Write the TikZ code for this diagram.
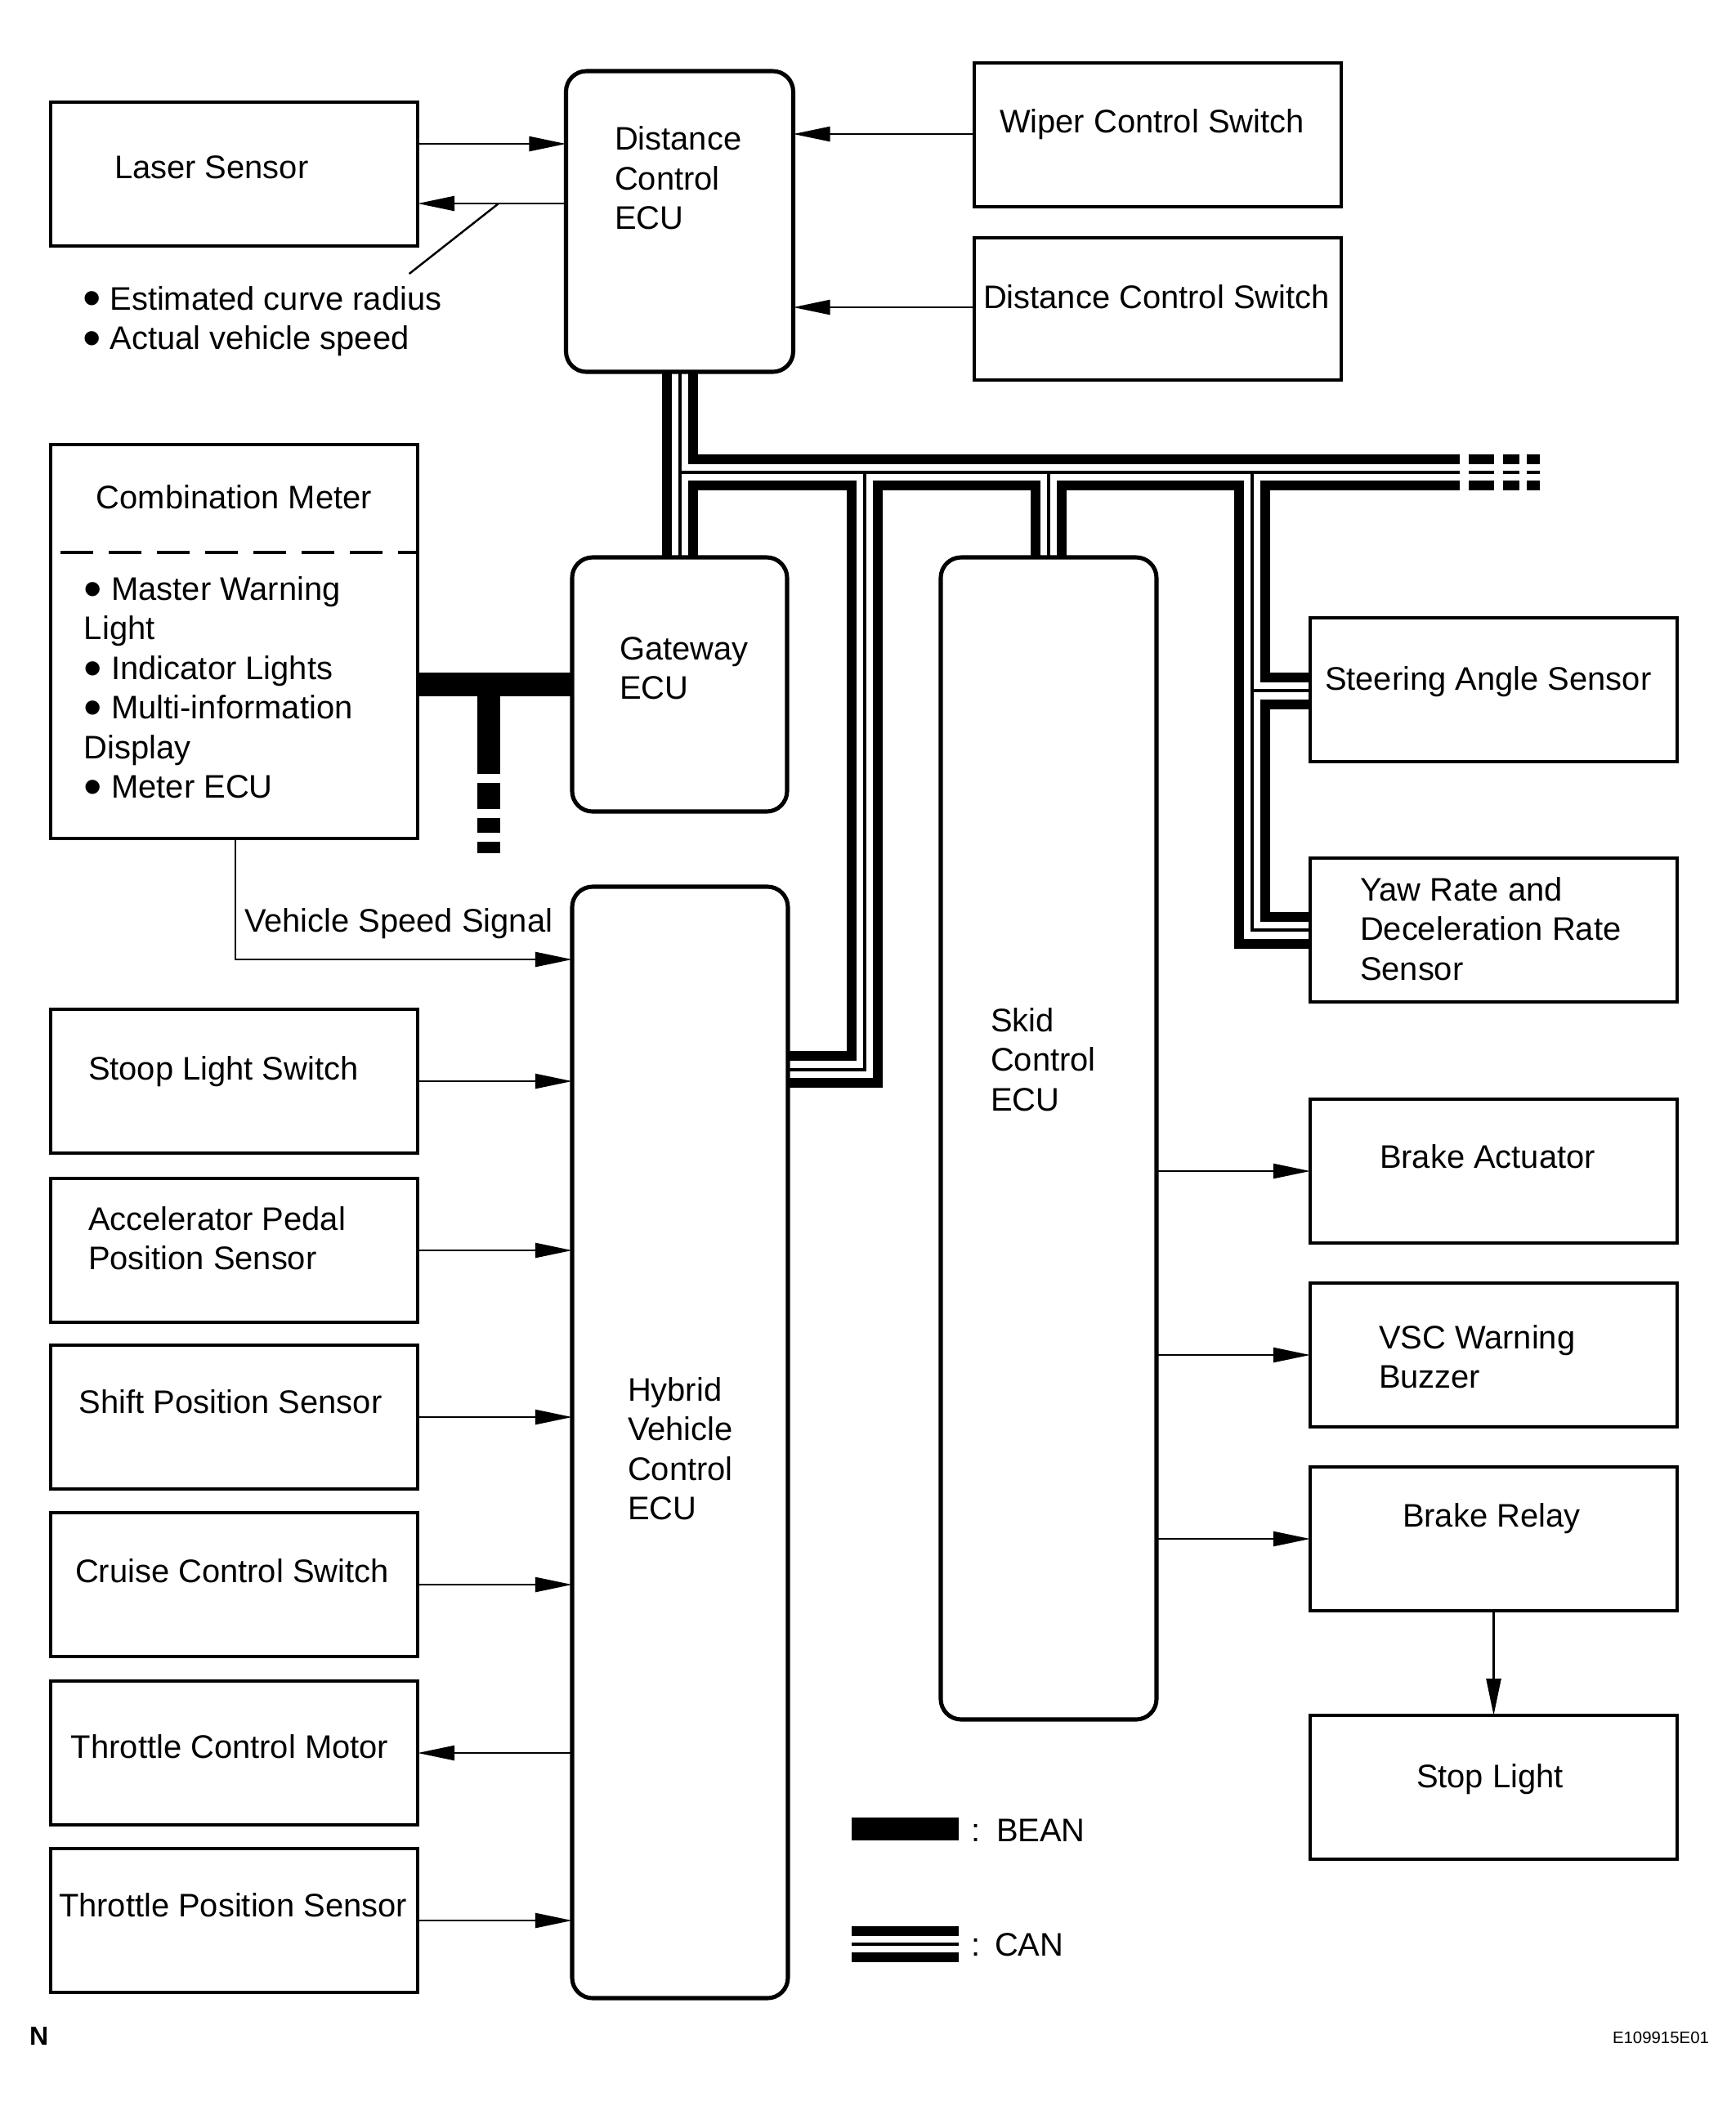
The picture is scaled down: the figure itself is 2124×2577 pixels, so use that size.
\documentclass[tikz,border=0pt]{standalone}
\usepackage{fontspec}
\setmainfont{Liberation Sans}
\usepackage{graphicx}
\usetikzlibrary{arrows.meta,fit}
\newcommand{\ml}[1]{\vtop{\halign{##\hfil\cr#1\crcr}}}
\newcommand{\bul}{\raisebox{-0.2em}[0.6em][0pt]{\scalebox{1.6}{•}}}
\begin{document}
\begin{tikzpicture}[x=0.01cm,y=-0.01cm,
  box/.style={draw, line width=1.2pt, inner sep=0pt, outer sep=0pt},
  ecu/.style={draw, line width=1.45pt, inner sep=0pt, outer sep=0pt, rounded corners=0.25cm},
  lbl/.style={inner sep=0pt, outer sep=0pt, anchor=base west, font=\fontsize{11.35}{13.8}\selectfont},
  arr/.style={line width=0.7pt, -{Triangle[length=4.5mm,width=1.8mm]}},
  thk/.style={line width=0.12cm, line cap=butt, line join=miter},
  thn/.style={line width=0.04cm, line cap=butt, line join=miter},
  bean/.style={line width=0.285cm, line cap=butt},
  plain/.style={line width=0.7pt}
]
\fill[white] (0,0) rectangle (2124,2577);
\useasboundingbox (0,0) rectangle (2124,2577);

% ---- boxes
\node[ecu, fit={(692.5,87) (970.5,455)}] (dcecu) {};
\node[box, fit={(62,125) (511,301)}] (laser) {};
\node[box, fit={(1192,77) (1641,253)}] (wiper) {};
\node[box, fit={(1192,291) (1641,465)}] (dcs) {};
\node[box, fit={(62,544) (511,1026)}] (comb) {};
\node[ecu, fit={(700,682) (963,993)}] (gw) {};
\node[ecu, fit={(700,1085) (964,2445)}] (hv) {};
\node[ecu, fit={(1151,682) (1415,2104)}] (skid) {};
\node[box, fit={(1603,756) (2052,932)}] (steer) {};
\node[box, fit={(1603,1050) (2052,1226)}] (yaw) {};
\node[box, fit={(1603,1345) (2052,1521)}] (ba) {};
\node[box, fit={(1603,1570) (2052,1746)}] (vsc) {};
\node[box, fit={(1603,1795) (2052,1971)}] (brelay) {};
\node[box, fit={(1603,2099) (2052,2275)}] (stop) {};
\node[box, fit={(62,1235) (511,1411)}] (stoop) {};
\node[box, fit={(62,1442) (511,1618)}] (accel) {};
\node[box, fit={(62,1646) (511,1822)}] (shift) {};
\node[box, fit={(62,1851) (511,2027)}] (cruise) {};
\node[box, fit={(62,2057) (511,2233)}] (tcm) {};
\node[box, fit={(62,2262) (511,2438)}] (tps) {};

% divider in combination meter
\draw[line width=1.2pt, dash pattern=on 0.4cm off 0.19cm] (74,676) -- (comb.east |- 0,676);

% ---- texts
\node[lbl] (tLaser) at (140,218) {Laser Sensor};
\node[lbl] (tDcecu) at (752,183.5) {\ml{Distance\cr Control\cr ECU}};
\node[lbl] (tWiper) at (1223,162) {Wiper Control Switch};
\node[lbl] (tDcs) at (1203,377) {Distance Control Switch};
\node[lbl] (tEst) at (101,379) {\ml{\bul{} Estimated curve radius\cr \bul{} Actual vehicle speed}};
\node[lbl, anchor=base] (tComb) at (286.5,622) {Combination Meter};
\node[lbl] (tCombItems) at (103,734) {\ml{\bul{} Master Warning\cr Light\cr \bul{} Indicator Lights\cr \bul{} Multi-information\cr Display\cr \bul{} Meter ECU}};
\node[lbl] (tGw) at (758,807) {\ml{Gateway\cr ECU}};
\node[lbl] (tVss) at (299,1140) {Vehicle Speed Signal};
\node[lbl] (tHv) at (768,1714) {\ml{Hybrid\cr Vehicle\cr Control\cr ECU}};
\node[lbl] (tSkid) at (1212,1262) {\ml{Skid\cr Control\cr ECU}};
\node[lbl] (tSteer) at (1621,844) {Steering Angle Sensor};
\node[lbl] (tYaw) at (1664,1102) {\ml{Yaw Rate and\cr Deceleration Rate\cr Sensor}};
\node[lbl] (tBa) at (1688,1429) {Brake Actuator};
\node[lbl] (tVsc) at (1687,1650) {\ml{VSC Warning\cr Buzzer}};
\node[lbl] (tBr) at (1716,1868) {Brake Relay};
\node[lbl] (tStop) at (1733,2187) {Stop Light};
\node[lbl] (tStoop) at (108,1321) {Stoop Light Switch};
\node[lbl] (tAccel) at (108,1505) {\ml{Accelerator Pedal\cr Position Sensor}};
\node[lbl] (tShift) at (97,1729) {Shift Position Sensor};
\node[lbl] (tCruise) at (92,1936) {Cruise Control Switch};
\node[lbl] (tTcm) at (87,2151) {Throttle Control Motor};
\node[lbl] (tTps) at (72,2345) {Throttle Position Sensor};
\node[lbl] (tBean) at (1188,2253) {:\hspace{0.2cm}BEAN};
\node[lbl] (tCan) at (1188,2393) {:\hspace{0.18cm}CAN};
\node[lbl, font=\fontsize{9.1}{11}\selectfont\bfseries] (tN) at (36,2502) {N};
\node[lbl, font=\fontsize{5.8}{7}\selectfont] (tCode) at (1973,2500) {E109915E01};

% ---- arrows
\draw[arr] (laser.east |- 0,176) -- (dcecu.west |- 0,176);
\draw[arr] (dcecu.west |- 0,249) -- (laser.east |- 0,249);
\coordinate (ldA) at (610,249);
\coordinate (ldB) at (500.7,335);
\draw[plain] (ldA) -- (ldB);
\draw[arr] (wiper.west |- 0,164) -- (dcecu.east |- 0,164);
\draw[arr] (dcs.west |- 0,376) -- (dcecu.east |- 0,376);
\draw[arr] (comb.south -| 288,0) -- (288,1174) -- (hv.west |- 0,1174);
\draw[arr] (stoop.east) -- (stoop.east -| hv.west);
\draw[arr] (accel.east) -- (accel.east -| hv.west);
\draw[arr] (shift.east) -- (shift.east -| hv.west);
\draw[arr] (cruise.east) -- (cruise.east -| hv.west);
\draw[arr] (tcm.east -| hv.west) -- (tcm.east);
\draw[arr] (tps.east) -- (tps.east -| hv.west);
\draw[arr] (ba.west -| skid.east) -- (ba.west);
\draw[arr] (vsc.west -| skid.east) -- (vsc.west);
\draw[arr] (brelay.west -| skid.east) -- (brelay.west);
\draw[arr] (brelay.south) -- (stop.north);

% ---- BEAN
\draw[bean] (comb.east |- 0,837.5) -- (gw.west |- 0,837.5);
\draw[bean] (598,837.5) -- (598,947);
\foreach \a/\b in {958/990,1001/1019,1030/1044}{\draw[bean] (598,\a) -- (598,\b);}

% ---- CAN
\draw[thk] (816,0 |- dcecu.south) -- (816,0 |- gw.north);
\draw[thn] (832,0 |- dcecu.south) -- (832,0 |- gw.north);
\draw[thk] (848,0 |- dcecu.south) -- (848,562) -- (1786,562);
\draw[thn] (832,578) -- (1786,578);
\draw[thk] (848,0 |- gw.north) -- (848,594) -- (1041.5,594) -- (1041.5,1292) -- (hv.east |- 0,1292);
\draw[thn] (1058,578) -- (1058,1309) -- (hv.east |- 0,1309);
\draw[thk] (hv.east |- 0,1324.5) -- (1074,1324.5) -- (1074,594) -- (1267,594) -- (1267,0 |- skid.north);
\draw[thn] (1283,578) -- (1283,0 |- skid.north);
\draw[thk] (1299,0 |- skid.north) -- (1299,594) -- (1516,594) -- (1516,1154.5) -- (yaw.west |- 0,1154.5);
\draw[thn] (1532,578) -- (1532,1138) -- (yaw.west |- 0,1138);
\draw[thn] (1532,845) -- (steer.west |- 0,845);
\draw[thk] (steer.west |- 0,828.5) -- (1548,828.5) -- (1548,594) -- (1786,594);
\draw[thk] (steer.west |- 0,862) -- (1548,862) -- (1548,1122) -- (yaw.west |- 0,1122);
\foreach \a/\b in {1797/1828,1839/1859,1868/1884}{
  \draw[thk] (\a,562) -- (\b,562);
  \draw[thn] (\a,578) -- (\b,578);
  \draw[thk] (\a,594) -- (\b,594);
}

% ---- legend
\draw[bean] (1042,2238) -- (1173,2238);
\draw[thk] (1042,2362.5) -- (1173,2362.5);
\draw[thn] (1042,2379) -- (1173,2379);
\draw[thk] (1042,2394.5) -- (1173,2394.5);
\end{tikzpicture}
\end{document}
